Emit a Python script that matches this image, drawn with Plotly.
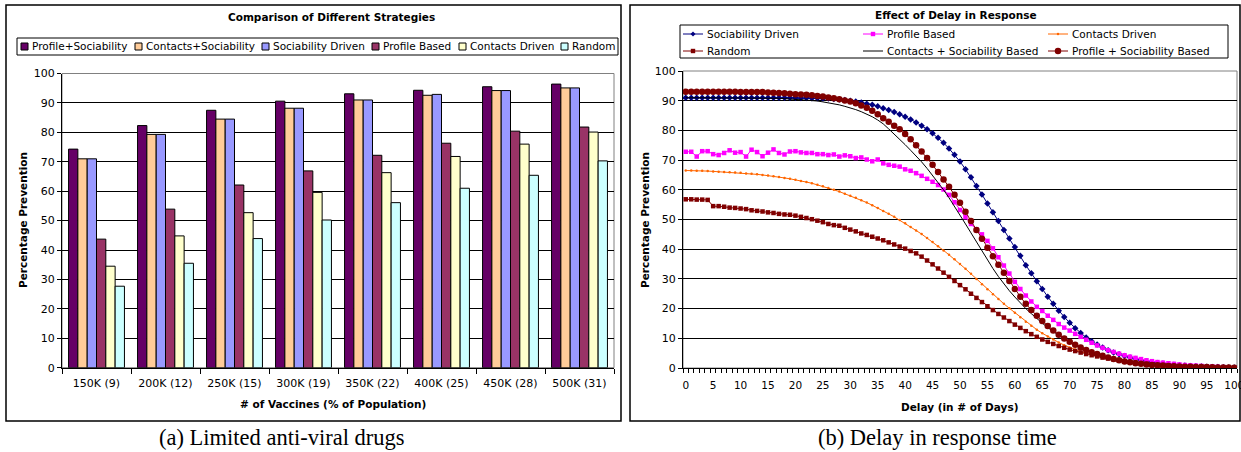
import plotly.graph_objects as go

W, H = 1241, 452

# ---------------- Data: left chart ----------------
categories = ["150K (9)", "200K (12)", "250K (15)", "300K (19)",
              "350K (22)", "400K (25)", "450K (28)", "500K (31)"]
bar_profile_soc = [74.3, 82.3, 87.5, 90.6, 93.1, 94.3, 95.5, 96.4]
bar_contacts_soc = [71.0, 79.3, 84.5, 88.2, 91.0, 92.6, 94.2, 95.1]
bar_soc_driven = [71.0, 79.3, 84.5, 88.2, 91.0, 92.9, 94.2, 95.1]
bar_profile_based = [43.7, 53.9, 62.1, 66.9, 72.2, 76.3, 80.4, 81.8]
bar_contacts_driven = [34.5, 44.8, 52.7, 59.6, 66.3, 71.8, 76.0, 80.1]
bar_random = [27.7, 35.5, 43.9, 50.2, 56.1, 61.0, 65.4, 70.3]

# ---------------- Data: right chart ----------------
days = list(range(101))
x_tick_labels = [str(v) for v in range(0, 101, 5)]

delay_soc_driven = [
    91.0, 91.0, 91.0, 91.0, 91.0, 91.0, 91.0, 91.0, 91.0, 91.0,
    91.0, 91.0, 91.0, 91.0, 91.0, 91.0, 91.0, 91.0, 91.0, 91.0,
    91.0, 90.9, 90.9, 90.8, 90.8, 90.7, 90.7, 90.6, 90.4, 90.2,
    90.0, 89.7, 89.4, 89.0, 88.6, 88.1, 87.5, 86.9, 86.2, 85.4,
    84.6, 83.7, 82.7, 81.6, 80.4, 79.0, 77.5, 75.8, 73.9, 71.8,
    69.5, 66.9, 64.2, 61.3, 58.4, 55.4, 52.4, 49.5, 46.5, 43.6,
    40.7, 37.8, 34.6, 31.9, 29.2, 26.6, 24.0, 21.6, 19.3, 17.2,
    15.2, 13.4, 11.8, 10.3, 9.0, 7.9, 6.9, 6.0, 5.2, 4.6,
    4.0, 3.5, 3.0, 2.6, 2.2, 1.9, 1.7, 1.5, 1.3, 1.1,
    0.9, 0.8, 0.7, 0.6, 0.5, 0.4, 0.35, 0.3, 0.25, 0.2,
    0.15]

delay_profile_based = [
    72.8, 72.8, 71.2, 73.0, 73.0, 72.0, 71.7, 72.4, 73.3, 72.5,
    72.7, 71.2, 73.5, 72.7, 71.3, 72.5, 73.6, 72.4, 71.9, 72.9,
    73.0, 72.6, 72.4, 72.4, 72.0, 72.0, 71.7, 71.9, 71.2, 71.6,
    71.3, 70.7, 70.9, 70.2, 69.6, 70.2, 68.9, 68.4, 68.1, 67.8,
    66.9, 66.4, 65.6, 64.7, 63.7, 62.7, 61.6, 60.1, 58.3, 55.8,
    53.2, 50.8, 48.5, 46.6, 45.0, 42.8, 40.3, 37.3, 34.5, 31.8,
    29.0, 26.6, 24.4, 22.4, 20.6, 19.2, 17.6, 16.2, 14.8, 13.6,
    12.6, 11.5, 10.5, 9.5, 8.5, 7.6, 6.8, 6.0, 5.4, 4.8,
    4.3, 3.8, 3.4, 3.0, 2.6, 2.3, 2.0, 1.8, 1.6, 1.4,
    1.2, 1.0, 0.9, 0.8, 0.7, 0.6, 0.5, 0.4, 0.3, 0.25,
    0.2]

delay_contacts_driven = [
    66.5, 66.5, 66.4, 66.4, 66.3, 66.2, 66.1, 66.0, 65.9, 65.8,
    65.7, 65.5, 65.4, 65.2, 65.0, 64.8, 64.6, 64.3, 64.0, 63.7,
    63.4, 63.0, 62.6, 62.2, 61.7, 61.2, 60.6, 60.0, 59.4, 58.7,
    58.0, 57.3, 56.5, 55.7, 54.8, 53.9, 52.9, 51.9, 50.9, 49.8,
    48.7, 47.5, 46.3, 45.1, 43.8, 42.4, 41.0, 39.6, 38.1, 36.6,
    35.0, 33.4, 31.7, 30.0, 28.2, 26.5, 24.8, 23.2, 21.6, 20.1,
    18.6, 17.1, 15.6, 14.2, 12.9, 11.7, 10.6, 9.6, 8.6, 7.7,
    6.9, 6.2, 5.5, 4.9, 4.4, 3.9, 3.5, 3.1, 2.8, 2.5,
    2.2, 2.0, 1.8, 1.6, 1.4, 1.2, 1.1, 1.0, 0.9, 0.8,
    0.7, 0.6, 0.55, 0.5, 0.45, 0.4, 0.35, 0.3, 0.25, 0.2,
    0.2]

delay_random = [
    56.8, 56.8, 56.7, 56.7, 56.6, 54.5, 54.5, 54.3, 54.0, 53.9,
    53.7, 53.5, 53.1, 52.9, 52.7, 52.4, 52.2, 51.9, 51.7, 51.6,
    51.3, 50.9, 50.5, 50.1, 49.6, 49.1, 48.5, 48.1, 47.9, 47.2,
    46.6, 46.0, 45.3, 44.8, 44.2, 43.6, 43.0, 42.3, 41.6, 40.9,
    40.2, 39.4, 38.6, 37.5, 36.2, 34.9, 33.5, 32.1, 30.7, 29.3,
    27.9, 26.5, 25.0, 23.6, 22.2, 20.8, 19.5, 18.2, 17.0, 15.8,
    14.6, 13.5, 12.4, 11.4, 10.5, 9.6, 8.8, 8.1, 7.4, 6.8,
    6.2, 5.7, 5.2, 4.7, 4.3, 3.9, 3.5, 3.2, 2.9, 2.6,
    2.3, 2.0, 1.8, 1.6, 1.4, 1.2, 1.0, 0.9, 0.8, 0.7,
    0.6, 0.5, 0.45, 0.4, 0.35, 0.3, 0.25, 0.2, 0.2, 0.15,
    0.1]

delay_contacts_soc = [
    91.0, 91.0, 91.0, 91.0, 91.0, 91.0, 91.0, 91.0, 91.0, 91.0,
    91.0, 91.0, 91.0, 91.0, 91.0, 90.95, 90.9, 90.8, 90.7, 90.6,
    90.5, 90.4, 90.3, 90.1, 89.9, 89.6, 89.3, 89.0, 88.6, 88.1,
    87.6, 87.0, 86.3, 85.5, 84.6, 83.5, 82.2, 80.5, 78.8, 77.0,
    75.2, 73.3, 71.4, 69.4, 67.2, 64.9, 62.5, 60.0, 57.3, 54.5,
    51.5, 48.5, 45.5, 42.4, 39.3, 36.3, 33.5, 30.8, 28.3, 26.0,
    23.9, 21.9, 20.0, 18.3, 16.6, 15.1, 13.6, 12.2, 10.9, 9.7,
    8.6, 7.6, 6.7, 5.9, 5.2, 4.5, 3.9, 3.4, 2.9, 2.5,
    2.1, 1.8, 1.5, 1.3, 1.1, 0.9, 0.8, 0.7, 0.6, 0.5,
    0.4, 0.35, 0.3, 0.3, 0.25, 0.2, 0.2, 0.15, 0.15, 0.1,
    0.1]

delay_profile_soc = [
    93.0, 93.0, 93.0, 93.0, 93.0, 93.0, 93.0, 93.0, 93.0, 93.0,
    92.9, 92.9, 92.9, 92.9, 92.9, 92.8, 92.7, 92.6, 92.5, 92.3,
    92.2, 92.1, 92.0, 91.8, 91.6, 91.4, 91.1, 90.8, 90.5, 90.1,
    89.7, 89.1, 88.4, 87.6, 86.6, 85.4, 84.1, 82.9, 81.6, 80.4,
    78.8, 77.0, 75.0, 72.9, 70.7, 68.4, 66.0, 63.5, 61.0, 58.3,
    55.6, 52.6, 49.5, 46.5, 43.5, 40.5, 37.6, 34.8, 32.1, 29.3,
    26.6, 24.0, 21.6, 19.5, 17.6, 15.8, 14.1, 12.6, 11.2, 9.9,
    8.8, 7.8, 6.9, 6.1, 5.3, 4.7, 4.1, 3.5, 3.0, 2.6,
    2.2, 1.9, 1.6, 1.4, 1.2, 1.0, 0.9, 0.8, 0.7, 0.6,
    0.5, 0.45, 0.4, 0.35, 0.3, 0.3, 0.25, 0.2, 0.2, 0.15,
    0.1]

# ---------------- Styles ----------------
FONT = "DejaVu Sans"
SERIF = "Liberation Serif"

bar_series = [
    ("Profile+Sociability", bar_profile_soc, "#660066"),
    ("Contacts+Sociability", bar_contacts_soc, "#FFCC99"),
    ("Sociability Driven", bar_soc_driven, "#9999FF"),
    ("Profile Based", bar_profile_based, "#993366"),
    ("Contacts Driven", bar_contacts_driven, "#FFFFCC"),
    ("Random", bar_random, "#CCFFFF"),
]

line_series = [
    ("Sociability Driven", delay_soc_driven, "#000080", "diamond", 5),
    ("Profile Based", delay_profile_based, "#FF00FF", "square", 4.5),
    ("Contacts Driven", delay_contacts_driven, "#FF6600", "circle", 2.5),
    ("Random", delay_random, "#800000", "square", 4.5),
    ("Contacts + Sociability Based", delay_contacts_soc, "#000000", None, 0),
    ("Profile + Sociability Based", delay_profile_soc, "#800000", "circle", 6.5),
]


def px(x):
    return x / W


def py(y):
    return 1 - y / H


fig = go.Figure()

for name, vals, col in bar_series:
    fig.add_trace(go.Bar(
        x=categories, y=vals, name=name, xaxis="x", yaxis="y",
        marker=dict(color=col, line=dict(color="#000000", width=1)),
        showlegend=False))

for name, vals, col, sym, size in line_series:
    mode = "lines+markers" if sym else "lines"
    fig.add_trace(go.Scatter(
        x=days, y=vals, name=name, xaxis="x2", yaxis="y2", mode=mode,
        line=dict(color=col, width=1),
        marker=dict(symbol=sym or "circle", size=size, color=col,
                    line=dict(width=0)),
        showlegend=False))

axis_common = dict(showline=True, linecolor="#000000", linewidth=1,
                   zeroline=False, automargin=False)

fig.update_layout(
    width=W, height=H,
    margin=dict(l=0, r=0, t=0, b=0, autoexpand=False),
    paper_bgcolor="#FFFFFF", plot_bgcolor="#FFFFFF",
    barmode="group", bargap=0.19, bargroupgap=0.0,
    font=dict(family=FONT, color="#000000"),
    xaxis=dict(domain=[px(62), px(614)], type="category",
               ticks="outside", tickson="boundaries", ticklen=5,
               tickcolor="#000000", showgrid=False, ticklabelstandoff=5,
               tickfont=dict(size=11, family=FONT), anchor="y",
               **axis_common),
    yaxis=dict(domain=[py(367.7), py(73.5)], range=[0, 100], dtick=10,
               ticks="outside", ticklen=4, tickcolor="#000000",
               showgrid=True, gridcolor="#000000", gridwidth=1,
               tickfont=dict(size=11, family=FONT), anchor="x",
               **axis_common),
    xaxis2=dict(domain=[px(683), px(1237)], range=[-0.5, 100.5],
                tickmode="array", tickvals=list(range(0, 101, 5)),
                ticktext=x_tick_labels, ticklabeloverflow="allow",
                ticks="outside", ticklen=4, tickcolor="rgba(0,0,0,0)",
                ticklabelstandoff=3,
                minor=dict(tick0=-0.5, dtick=1, ticks="outside", ticklen=4,
                           tickcolor="#000000", showgrid=False),
                showgrid=False, tickfont=dict(size=10.5, family=FONT),
                anchor="y2", **axis_common),
    yaxis2=dict(domain=[py(368), py(71)], range=[0, 100], dtick=10,
                ticks="outside", ticklen=4, tickcolor="#000000",
                showgrid=True, gridcolor="#000000", gridwidth=1,
                tickfont=dict(size=11, family=FONT), anchor="x2",
                **axis_common),
)

shapes = []
# panel frames
shapes.append(dict(type="rect", xref="paper", yref="paper",
                   x0=px(6), x1=px(621), y0=py(421), y1=py(5),
                   line=dict(color="#000000", width=1.5), layer="above"))
shapes.append(dict(type="rect", xref="paper", yref="paper",
                   x0=px(630), x1=px(1240), y0=py(421), y1=py(5),
                   line=dict(color="#000000", width=1.5), layer="above"))
# plot-area frames (grey)
for xr, yr in (("x domain", "y domain"), ("x2 domain", "y2 domain")):
    shapes.append(dict(type="rect", xref=xr, yref=yr, x0=0, x1=1, y0=0, y1=1,
                       line=dict(color="#808080", width=1), layer="below"))

annotations = []

# titles
annotations.append(dict(text="<b>Comparison of Different Strategies</b>",
                        x=px(331), y=py(17), xref="paper", yref="paper",
                        showarrow=False, font=dict(size=10.5, family=FONT),
                        xanchor="center", yanchor="middle"))
annotations.append(dict(text="<b>Effect of Delay in Response</b>",
                        x=px(956), y=py(15), xref="paper", yref="paper",
                        showarrow=False, font=dict(size=10.5, family=FONT),
                        xanchor="center", yanchor="middle"))
# axis titles
annotations.append(dict(text="<b># of Vaccines (% of Population)</b>",
                        x=px(333), y=py(404), xref="paper", yref="paper",
                        showarrow=False, font=dict(size=10.5, family=FONT),
                        xanchor="center", yanchor="middle"))
annotations.append(dict(text="<b>Delay (in # of Days)</b>",
                        x=px(960), y=py(407), xref="paper", yref="paper",
                        showarrow=False, font=dict(size=10.5, family=FONT),
                        xanchor="center", yanchor="middle"))
for xx in (23, 645):
    annotations.append(dict(text="<b>Percentage Prevention</b>",
                            x=px(xx), y=py(220), xref="paper", yref="paper",
                            showarrow=False, textangle=-90,
                            font=dict(size=10.5, family=FONT),
                            xanchor="center", yanchor="middle"))
# captions
annotations.append(dict(text="(a) Limited anti-viral drugs",
                        x=px(282), y=py(437), xref="paper", yref="paper",
                        showarrow=False, font=dict(size=22.5, family=SERIF),
                        xanchor="center", yanchor="middle"))
annotations.append(dict(text="(b) Delay in response time",
                        x=px(937), y=py(437), xref="paper", yref="paper",
                        showarrow=False, font=dict(size=22.5, family=SERIF),
                        xanchor="center", yanchor="middle"))

# ---- left legend (manual, Excel-like) ----
shapes.append(dict(type="rect", xref="paper", yref="paper",
                   x0=px(17), x1=px(618), y0=py(55), y1=py(38),
                   line=dict(color="#000000", width=1), layer="above"))
leg_left_x = [21, 135, 262, 372, 459, 561]
ly = 46.5
for (name, vals, col), lx in zip(bar_series, leg_left_x):
    shapes.append(dict(type="rect", xref="paper", yref="paper",
                       x0=px(lx), x1=px(lx + 7), y0=py(ly + 3.5), y1=py(ly - 3.5),
                       fillcolor=col, line=dict(color="#000000", width=1)))
    annotations.append(dict(text=name, x=px(lx + 9), y=py(ly),
                            xref="paper", yref="paper", showarrow=False,
                            font=dict(size=10.5, family=FONT),
                            xanchor="left", yanchor="middle"))

# ---- right legend (manual) ----
shapes.append(dict(type="rect", xref="paper", yref="paper",
                   x0=px(680), x1=px(1228), y0=py(58), y1=py(25),
                   line=dict(color="#000000", width=1), layer="above"))
col_x = [683, 863, 1048]
row_y = [34, 51]
for i, (name, vals, col, sym, size) in enumerate(line_series):
    cx = col_x[i % 3]
    ry = row_y[i // 3]
    shapes.append(dict(type="line", xref="paper", yref="paper",
                       x0=px(cx), x1=px(cx + 20), y0=py(ry), y1=py(ry),
                       line=dict(color=col, width=1)))
    mx = cx + 10
    if sym == "diamond":
        r = 2.5
        shapes.append(dict(type="path", xref="paper", yref="paper",
                           path=f"M {px(mx)} {py(ry - r)} L {px(mx + r)} {py(ry)} "
                                f"L {px(mx)} {py(ry + r)} L {px(mx - r)} {py(ry)} Z",
                           fillcolor=col, line=dict(color=col, width=0)))
    elif sym == "square":
        r = 2.2
        shapes.append(dict(type="rect", xref="paper", yref="paper",
                           x0=px(mx - r), x1=px(mx + r), y0=py(ry + r), y1=py(ry - r),
                           fillcolor=col, line=dict(color=col, width=0)))
    elif sym == "circle":
        r = size / 2
        shapes.append(dict(type="circle", xref="paper", yref="paper",
                           x0=px(mx - r), x1=px(mx + r), y0=py(ry + r), y1=py(ry - r),
                           fillcolor=col, line=dict(color=col, width=0)))
    annotations.append(dict(text=name, x=px(cx + 22), y=py(ry),
                            xref="paper", yref="paper", showarrow=False,
                            font=dict(size=10.5, family=FONT),
                            xanchor="left", yanchor="middle"))

fig.update_layout(shapes=shapes, annotations=annotations)

fig.write_html("out.html")
